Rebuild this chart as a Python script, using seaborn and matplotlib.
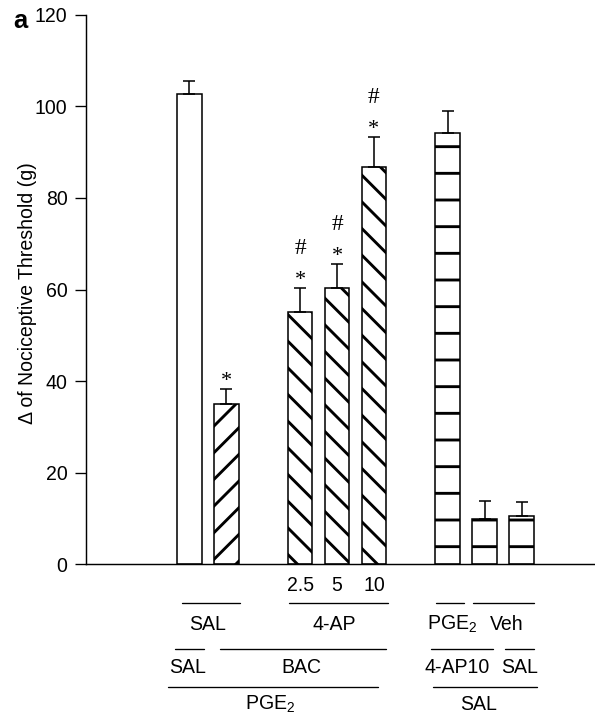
import matplotlib
matplotlib.use("Agg")
import matplotlib.pyplot as plt
import matplotlib.transforms as mtransforms
import seaborn as sns
import pandas as pd
import numpy as np

# ---------------- data ----------------
categories = ["SAL/SAL/PGE2", "BAC/SAL/PGE2", "4-AP 2.5", "4-AP 5", "4-AP 10",
              "PGE2/4-AP10/SAL", "Veh/4-AP10/SAL", "SAL/SAL/SAL"]
values = [102.7, 34.9, 55.1, 60.4, 86.8, 94.1, 10.0, 10.5]
errors = [2.9, 3.3, 5.2, 5.2, 6.5, 4.8, 3.9, 3.1]
stars = ["", "*", "*", "*", "*", "", "", ""]
hashes = ["", "", "#", "#", "#", "", "", ""]
hatches = ["", "//", "\\\\", "\\\\", "\\\\", "-", "-", "-"]
dose_labels = ["2.5", "5", "10"]

DPI = 160
W, H = 595, 721

sns.set_style("white")
plt.rcParams["font.family"] = ["Liberation Sans", "DejaVu Sans"]
plt.rcParams["mathtext.default"] = "regular"
plt.rcParams["hatch.linewidth"] = 1.3
plt.rcParams["hatch.color"] = "black"
for k in ["text.color", "axes.labelcolor", "xtick.color", "ytick.color",
          "axes.edgecolor"]:
    plt.rcParams[k] = "black"

FS = 8.8

fig = plt.figure(figsize=(W / DPI, H / DPI), dpi=DPI)
ax = fig.add_axes([86 / W, 1 - 564.3 / H, (W - 86) / W, (564.3 - 14.7) / H])

df = pd.DataFrame({"cond": categories, "val": values})
order = categories[:2] + [" "] + categories[2:5] + ["  "] + categories[5:]

sns.barplot(data=df, x="cond", y="val", order=order, color="white",
            edgecolor="black", linewidth=0.7, width=0.667, errorbar=None,
            saturation=1, ax=ax)

# map bars (sorted by x) to data and apply hatches
bars = sorted([p for p in ax.patches if p.get_height() > 0], key=lambda p: p.get_x())
xs = []
for p, h in zip(bars, hatches):
    p.set_facecolor("white")
    p.set_edgecolor("black")
    p.set_hatch(h)
    xs.append(p.get_x() + p.get_width() / 2)
xs = np.array(xs)

# one-sided error bars
ax.errorbar(xs, values, yerr=[np.zeros(len(values)), errors], fmt="none",
            ecolor="black", elinewidth=0.7, capsize=2.6, capthick=0.7, zorder=5)

# significance marks
for x, v, e, s, hs in zip(xs, values, errors, stars, hashes):
    if s:
        ax.annotate(s, (x, v + e), xytext=(0, 1.3), textcoords="offset points",
                    ha="center", va="baseline", fontsize=10,
                    family="Liberation Serif")
    if hs:
        ax.annotate(hs, (x, v + e), xytext=(0, 15.3), textcoords="offset points",
                    ha="center", va="baseline", fontsize=10.5,
                    family="Liberation Serif")

ax.set_ylim(0, 120)
ax.set_xlim(-2.8, 10.99)
ax.set_yticks(range(0, 121, 20))
ax.tick_params(axis="y", direction="out", length=4.9, width=0.6, pad=3.4,
               labelsize=FS, left=True, colors="black")
ax.tick_params(axis="x", bottom=False, labelbottom=False)
ax.set_xlabel("")
ax.set_ylabel("")
for side in ["top", "right"]:
    ax.spines[side].set_visible(False)
for side in ["left", "bottom"]:
    ax.spines[side].set_linewidth(0.65)
    ax.spines[side].set_color("black")

# y label and panel letter
fig.text(33.3 / W, 1 - 293 / H, "\u0394 of Nociceptive Threshold (g)",
         rotation=90, rotation_mode="anchor", ha="center", va="baseline",
         fontsize=FS, color="black")
fig.text(13 / W, 1 - 28 / H, "a", fontsize=11.5, fontweight="bold",
         ha="left", va="baseline", color="black")

# ---------------- group labels below the axis ----------------
tr = mtransforms.blended_transform_factory(ax.transData, fig.transFigure)


def fy(p):
    return 1 - p / H


def line(x0, x1, yp):
    ax.plot([x0, x1], [fy(yp), fy(yp)], color="black", lw=0.6,
            transform=tr, clip_on=False)


def label(x, yp, s):
    ax.text(x, fy(yp), s, ha="center", va="baseline", fontsize=FS,
            transform=tr, clip_on=False, color="black")


for x, s in zip(xs[2:5], dose_labels):
    label(x, 590.7, s)

# row 1
line(-0.21, 1.36, 603); label(0.49, 630, "SAL")
line(2.71, 5.38, 603); label(3.92, 630, "4-AP")
line(6.68, 7.45, 603); label(7.11, 630, "PGE$_2$")
line(7.68, 9.35, 603); label(8.60, 630, "Veh")
# row 2
line(-0.39, 0.41, 648.7); label(-0.05, 672.7, "SAL")
line(0.83, 5.33, 648.7); label(3.03, 672.7, "BAC")
line(6.55, 8.24, 648.7); label(7.25, 672.7, "4-AP10")
line(8.55, 9.35, 648.7); label(8.94, 672.7, "SAL")
# row 3
line(-0.57, 5.12, 686.7); label(2.19, 710, "PGE$_2$")
line(6.61, 9.43, 686.7); label(7.83, 710, "SAL")

fig.savefig("out.png", dpi=DPI)
